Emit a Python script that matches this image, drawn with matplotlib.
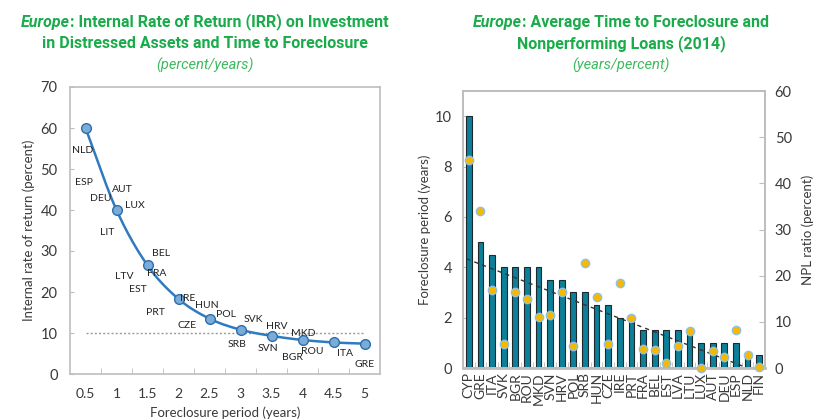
import numpy as np
import matplotlib
matplotlib.use("Agg")
import matplotlib.pyplot as plt

plt.rcParams['font.family'] = ['Lato', 'DejaVu Sans']

# ---------------- Data: left chart ----------------
irr_x = [0.5, 1.0, 1.5, 2.0, 2.5, 3.0, 3.5, 4.0, 4.5, 5.0]
irr_y = [60.0, 40.0, 26.5, 18.3, 13.5, 10.8, 9.3, 8.3, 7.7, 7.4]
irr_threshold = 10
irr_xticks = ["0.5", "1", "1.5", "2", "2.5", "3", "3.5", "4", "4.5", "5"]

label_names = ["NLD", "ESP", "AUT", "DEU", "LUX", "LIT", "BEL", "LTV", "FRA", "EST",
               "IRE", "PRT", "HUN", "POL", "CZE", "SVK", "HRV", "MKD", "SRB", "SVN",
               "BGR", "ROU", "ITA", "GRE"]
label_x = [0.45, 0.48, 1.09, 0.74, 1.29, 0.85, 1.72, 1.13, 1.65, 1.35,
           2.15, 1.62, 2.45, 2.77, 2.14, 3.21, 3.58, 4.01, 2.94, 3.45,
           3.83, 4.16, 4.68, 5.0]
label_y = [54.6, 46.8, 45.1, 42.9, 41.0, 34.6, 29.3, 23.7, 24.6, 20.7,
           18.5, 15.1, 16.6, 14.4, 11.9, 13.2, 11.7, 10.0, 7.1, 6.3,
           4.1, 5.4, 4.9, 2.2]

# ---------------- Data: right chart ----------------
countries = ["CYP", "GRE", "ITA", "SVK", "BGR", "ROU", "MKD", "SVN", "HRV", "POL",
             "SRB", "HUN", "CZE", "IRE", "PRT", "FRA", "BEL", "EST", "LVA", "LTU",
             "LUX", "AUT", "DEU", "ESP", "NLD", "FIN"]
foreclosure_years = [10, 5, 4.5, 4, 4, 4, 4, 3.5, 3.5, 3,
                     3, 2.5, 2.5, 2, 2, 1.5, 1.5, 1.5, 1.5, 1.5,
                     1, 1, 1, 1, 0.5, 0.5]
npl_ratio = [45.1, 34.0, 17.0, 5.1, 16.5, 15.0, 11.0, 11.4, 16.4, 4.7,
             22.7, 15.4, 5.3, 18.4, 10.9, 4.2, 3.9, 1.1, 4.7, 8.0,
             0.1, 3.7, 2.4, 8.2, 2.9, 0.3]
trend_categories = ["CYP", "NLD"]
trend_values = [4.3, 0.0]

GREEN = "#1aab4b"
GREEN_LIGHT = "#3dba5e"
TXT = "#3a3a3a"
SPINE = "#bdbdbd"

fig = plt.figure(figsize=(8.16, 4.19), dpi=100)


def catmull_rom(xs, ys, n=20):
    xs = np.asarray(xs, float)
    ys = np.asarray(ys, float)
    P = np.column_stack([xs, ys])
    P = np.vstack([P[0] - (P[1] - P[0]), P, P[-1] + (P[-1] - P[-2])])
    out = []
    t = np.linspace(0, 1, n)[:, None]
    for i in range(1, len(P) - 2):
        p0, p1, p2, p3 = P[i - 1], P[i], P[i + 1], P[i + 2]
        c = 0.5 * ((2 * p1) + (-p0 + p2) * t + (2 * p0 - 5 * p1 + 4 * p2 - p3) * t ** 2
                   + (-p0 + 3 * p1 - 3 * p2 + p3) * t ** 3)
        out.append(c if i == len(P) - 3 else c[:-1])
    c = np.vstack(out)
    return c[:, 0], c[:, 1]


# ---------------- Left chart ----------------
ax1 = fig.add_axes([70 / 816, 1 - 374 / 419, 310 / 816, 287 / 419])
ax1.set_xlim(0.25, 5.25)
ax1.set_ylim(0, 70)
ax1.plot([irr_x[0], irr_x[-1]], [irr_threshold, irr_threshold], ls=(0, (1.5, 1.5)),
         color="#9a9a9a", lw=1.0, zorder=1)
sx, sy = catmull_rom(irr_x, irr_y)
ax1.plot(sx, sy, color="#2f7ac0", lw=1.8, zorder=2)
ax1.plot(irr_x, irr_y, ls="none", marker="o", ms=7, mfc="#79acd9", mec="#2f6ea8",
         mew=1.0, zorder=3)
for name, lx, ly in zip(label_names, label_x, label_y):
    ax1.text(lx, ly, name, fontsize=7.5, color="#222222", ha="center", va="center", zorder=4)
ax1.set_xticks(irr_x)
ax1.set_xticklabels(irr_xticks)
ax1.set_xticks(np.arange(0.75, 5.0, 0.5), minor=True)
ax1.tick_params(axis="x", which="major", length=0, pad=10, labelsize=10, labelcolor=TXT)
ax1.tick_params(axis="x", which="minor", length=4, direction="in", color=SPINE)
ax1.set_yticks(range(0, 71, 10))
ax1.tick_params(axis="y", length=3, direction="in", color=SPINE, pad=9,
                labelsize=10.5, labelcolor=TXT)
for s in ax1.spines.values():
    s.set_color(SPINE)
    s.set_linewidth(1.2)
ax1.set_ylabel("Internal rate of return (percent)", fontsize=9.5, color=TXT, labelpad=4)
ax1.set_xlabel("Foreclosure period (years)", fontsize=9.5, color=TXT, labelpad=5)

# ---------------- Right chart ----------------
ax2 = fig.add_axes([463 / 816, 1 - 368 / 419, 302 / 816, 277 / 419])
xpos = np.arange(len(countries))
ax2.bar(xpos, foreclosure_years, width=0.5, color="#0e7f98", edgecolor="#1c2a30",
        linewidth=0.8, zorder=2)
tx = [countries.index(c) for c in trend_categories]
ax2.plot([tx[0] - 0.2, tx[1]], [trend_values[0] + (trend_values[0] - trend_values[1]) / (tx[1] - tx[0]) * 0.2,
                                 trend_values[1]],
         ls=(0, (3, 3)), color="#333333", lw=1.0, zorder=3)
ax2.set_xlim(-0.5, len(countries) - 0.5)
ax2.set_ylim(0, 11)
ax2.set_xticks(xpos)
ax2.set_xticklabels(countries, rotation=90, fontsize=10, color=TXT)
ax2.set_xticks(np.arange(-0.5, len(countries), 1.0), minor=True)
ax2.tick_params(axis="x", which="major", length=0, pad=3)
ax2.tick_params(axis="x", which="minor", length=4, direction="in", color=SPINE)
ax2.set_yticks(range(0, 11, 2))
ax2.tick_params(axis="y", length=4, direction="in", color=SPINE, pad=8,
                labelsize=10.5, labelcolor=TXT)
ax2.set_ylabel("Foreclosure period (years)", fontsize=9.5, color=TXT, labelpad=3)

ax3 = ax2.twinx()
ax3.set_ylim(0, 60)
ax3.plot(xpos, npl_ratio, ls="none", marker="o", ms=6, mfc="#f7b900", mec="#8fc1e3",
         mew=1.0, zorder=4, clip_on=False)
ax3.set_yticks(range(0, 61, 10))
ax3.tick_params(axis="y", length=4, direction="in", color=SPINE, pad=7,
                labelsize=10.5, labelcolor=TXT)
ax3.set_ylabel("NPL ratio (percent)", fontsize=9.5, color=TXT, labelpad=7)
for a in (ax2, ax3):
    for s in a.spines.values():
        s.set_color(SPINE)
        s.set_linewidth(1.2)
ax2.spines["bottom"].set_linewidth(2.0)
ax2.set_zorder(1)
ax3.set_zorder(2)

# ---------------- Titles ----------------
TFONT = ['Liberation Sans Narrow', 'Roboto', 'DejaVu Sans']
renderer = fig.canvas.get_renderer()


def mixed_line(xc, y, parts, size=11.5):
    texts = []
    for txt, style in parts:
        t = fig.text(0, y, txt, fontsize=size, color=GREEN, fontweight="bold",
                     style=style, family=TFONT, ha="left", va="center")
        texts.append(t)
    widths = [t.get_window_extent(renderer).width for t in texts]
    total = sum(widths)
    x = xc * fig.bbox.width - total / 2
    for t, w in zip(texts, widths):
        t.set_x(x / fig.bbox.width)
        x += w


def plain_line(xc, y, txt, size=11.5, **kw):
    fig.text(xc, y, txt, fontsize=size, family=TFONT, ha="center", va="center", **kw)


lx = 205 / 816
rx = 621 / 816
mixed_line(lx, 1 - 22 / 419, [("Europe", "italic"),
                              (": Internal Rate of Return (IRR) on Investment", "normal")])
plain_line(lx, 1 - 44 / 419, "in Distressed Assets and Time to Foreclosure",
           color=GREEN, fontweight="bold")
plain_line(lx, 1 - 65 / 419, "(percent/years)", size=10.5, color=GREEN_LIGHT, style="italic")

mixed_line(rx, 1 - 22 / 419, [("Europe", "italic"),
                              (": Average Time to Foreclosure and", "normal")])
plain_line(rx, 1 - 44 / 419, "Nonperforming Loans (2014)", color=GREEN, fontweight="bold")
plain_line(rx, 1 - 65 / 419, "(years/percent)", size=10.5, color=GREEN_LIGHT, style="italic")

fig.savefig("out.png", dpi=100)
